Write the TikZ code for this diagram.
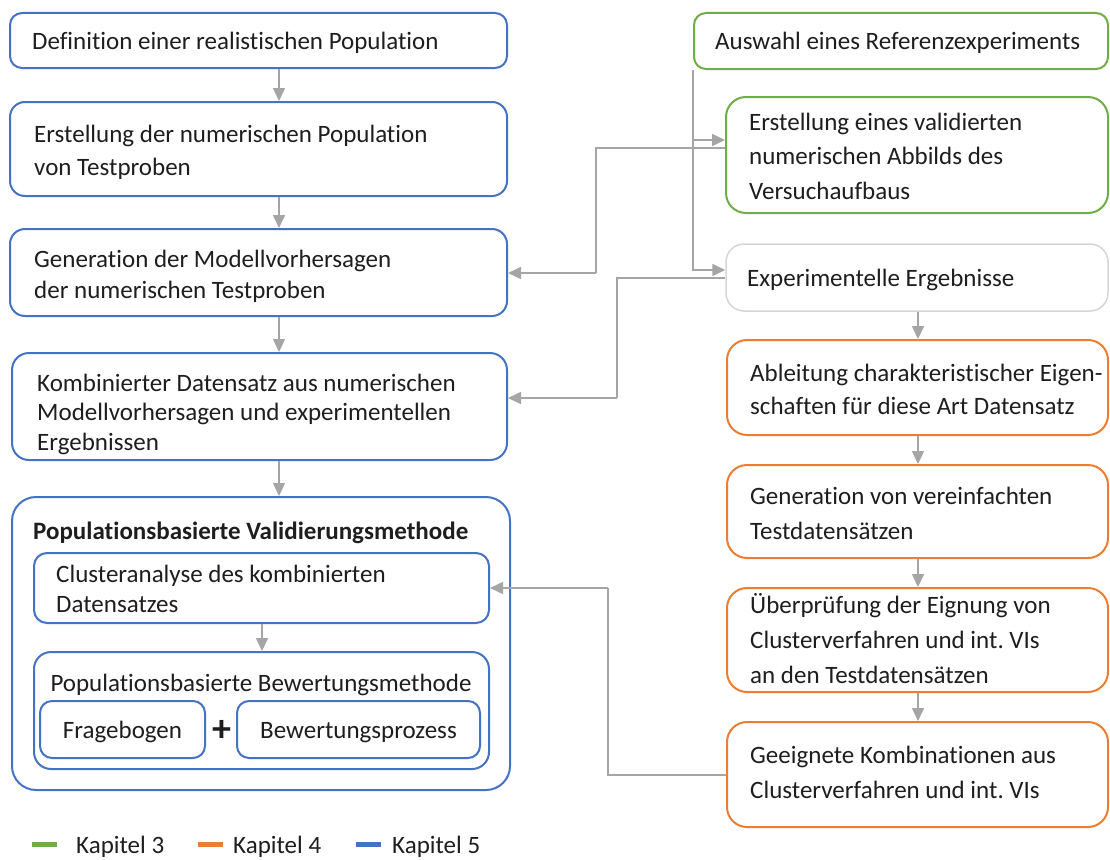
\documentclass[tikz,border=0pt]{standalone}
\usepackage{fontspec}
\setmainfont{Carlito}[Ligatures={NoCommon}]
\usetikzlibrary{arrows.meta}
\frenchspacing

\definecolor{chapblue}{HTML}{4472C4}
\definecolor{chapgreen}{HTML}{70AD47}
\definecolor{chaporange}{HTML}{ED7D31}
\definecolor{linkgray}{HTML}{A5A5A5}
\definecolor{palegray}{HTML}{D6D6D6}
\definecolor{inkc}{HTML}{1E1E1E}

% a box given by its corners (x1,y1) and (x2,y2), y pointing down
\newcommand\boxat[6]{%
  \node[#2, minimum width={(#5-#3)*1pt}, minimum height={(#6-#4)*1pt}]
    (#1) at ({(#3+#5)/2},{(#4+#6)/2}) {};}
% several text lines with a given line distance, baseline at the first line
\newcommand\linesbox[2]{\parbox[t]{520pt}{\fontsize{25}{#1}\selectfont\raggedright #2}}

\begin{document}
\begin{tikzpicture}[x=1pt,y=-1pt,
  box/.style={draw=#1, line width=2pt, rectangle, inner sep=0pt, fill=white},
  blubox/.style={box=chapblue, rounded corners=#1},
  grnbox/.style={box=chapgreen, rounded corners=#1},
  orgbox/.style={box=chaporange, rounded corners=#1},
  graybox/.style={draw=palegray, line width=1.5pt, rectangle, inner sep=0pt, rounded corners=#1},
  txt/.style={anchor=base west, inner sep=0pt, text=inkc},
  ctxt/.style={anchor=base, inner sep=0pt, text=inkc, font=\fontsize{25}{30}\selectfont},
  conn/.style={draw=linkgray, line width=1.6pt, -{Triangle[length=13pt,width=12pt]}},
  link/.style={draw=linkgray, line width=1.6pt},
  legline/.style={line width=5pt, draw=#1},
]
\useasboundingbox (0,0) rectangle (1110,859);

% helper coordinates for connector routes
\coordinate (colL) at (279,0);
\coordinate (colM) at (262,0);
\coordinate (colR) at (918,0);
\coordinate (y140) at (0,140);
\coordinate (y148) at (0,148);
\coordinate (y270) at (0,270);
\coordinate (y278) at (0,278);
\coordinate (y775) at (0,775);
\coordinate (jA) at (596,273);
\coordinate (jB) at (617,398);
\coordinate (jC) at (608,588);

% ---- left column (Kapitel 5)
\boxat{b1}{blubox=12pt}{10}{13}{507}{68}
\boxat{b2}{blubox=15pt}{10}{102}{507}{196}
\boxat{b3}{blubox=15pt}{10}{229}{507}{316}
\boxat{b4}{blubox=17pt}{12}{353}{507}{460}
\boxat{b5}{blubox=24pt}{12}{497}{510}{790}
\boxat{cl}{blubox=13pt}{34}{553}{489}{623}
\boxat{bw}{blubox=17pt}{34}{652}{489}{769}
\boxat{fr}{blubox=12pt}{40}{701}{205}{758}
\boxat{bp}{blubox=12pt}{237}{701}{480}{758}

\node[txt] (t1) at (32,50) {\linesbox{34}{Definition einer realistischen Population}};
\node[txt] (t2) at (34,142) {\linesbox{33}{Erstellung der numerischen Population\\von Testproben}};
\node[txt] (t3) at (34,267) {\linesbox{31}{Generation der Modellvorhersagen\\der numerischen Testproben}};
\node[txt] (t4) at (37,391) {\linesbox{29.5}{Kombinierter Datensatz aus numerischen\\Modellvorhersagen und experimentellen\\Ergebnissen}};
\node[txt] (t5) at (33,539) {\linesbox{30}{\bfseries Populationsbasierte Validierungsmethode}};
\node[txt] (tcl) at (56,582) {\linesbox{30}{Clusteranalyse des kombinierten\\Datensatzes}};
\node[ctxt] (tbw) at (261,691) {Populationsbasierte Bewertungsmethode};
\node[ctxt] (tfr) at (122.5,738) {Fragebogen};
\node[ctxt] (tbp) at (358.5,738) {Bewertungsprozess};
\node[inner sep=0pt, text=inkc, font=\fontsize{38}{38}\selectfont\bfseries] (plus) at (222,731) {+};

% ---- right column (Kapitel 3 and 4)
\boxat{r1}{grnbox=12pt}{694}{13}{1108}{69}
\boxat{r2}{grnbox=20pt}{726}{97}{1108}{213}
\boxat{r3}{graybox=18pt}{726}{244}{1108}{311}
\boxat{r4}{orgbox=20pt}{727}{340}{1108}{435}
\boxat{r5}{orgbox=20pt}{727}{465}{1108}{558}
\boxat{r6}{orgbox=20pt}{727}{588}{1108}{692}
\boxat{r7}{orgbox=20pt}{727}{722}{1108}{827}

\node[txt] (s1) at (715,50) {\linesbox{34}{Auswahl eines Referenzexperiments}};
\node[txt] (s2) at (749,130) {\linesbox{34.5}{Erstellung eines validierten\\numerischen Abbilds des\\Versuchaufbaus}};
\node[txt] (s3) at (747,286) {\linesbox{34}{Experimentelle Ergebnisse}};
\node[txt] (s4) at (750,381) {\linesbox{33}{Ableitung charakteristischer Eigen-\\schaften für diese Art Datensatz}};
\node[txt] (s5) at (750,504) {\linesbox{35}{Generation von vereinfachten\\Testdatensätzen}};
\node[txt] (s6) at (750,613) {\linesbox{35}{Überprüfung der Eignung von\\Clusterverfahren und int. VIs\\an den Testdatensätzen}};
\node[txt] (s7) at (750,763) {\linesbox{35}{Geeignete Kombinationen aus\\Clusterverfahren und int. VIs}};

% ---- connectors
\draw[conn] (b1.south -| colL) -- (b2.north -| colL);
\draw[conn] (b2.south -| colL) -- (b3.north -| colL);
\draw[conn] (b3.south -| colL) -- (b4.north -| colL);
\draw[conn] (b4.south -| colL) -- (b5.north -| colL);
\draw[conn] (cl.south -| colM) -- (bw.north -| colM);

\draw[conn] (r3.south -| colR) -- (r4.north -| colR);
\draw[conn] (r4.south -| colR) -- (r5.north -| colR);
\draw[conn] (r5.south -| colR) -- (r6.north -| colR);
\draw[conn] (r6.south -| colR) -- (r7.north -| colR);

\draw[conn] (r1.south west) |- (r3.west |- y270);
\draw[conn] (r1.south west |- y140) -- (r2.west |- y140);

\draw[link] (r2.west |- y148) -| (jA);
\draw[conn] (jA) -- (b3.east |- jA);
\draw[link] (r3.west |- y278) -| (jB);
\draw[conn] (jB) -- (b4.east |- jB);
\draw[link] (r7.west |- y775) -| (jC);
\draw[conn] (jC) -- (cl.east |- jC);

% ---- legend
\coordinate (g1) at (32,844);  \coordinate (g2) at (57,844);
\coordinate (o1) at (198,844); \coordinate (o2) at (223,844);
\coordinate (u1) at (356,844); \coordinate (u2) at (381,844);
\draw[legline=chapgreen] (g1) -- (g2);
\draw[legline=chaporange] (o1) -- (o2);
\draw[legline=chapblue] (u1) -- (u2);
\node[txt] (k3) at (76,853) {\linesbox{30}{Kapitel 3}};
\node[txt] (k4) at (233,853) {\linesbox{30}{Kapitel 4}};
\node[txt] (k5) at (392,853) {\linesbox{30}{Kapitel 5}};
\end{tikzpicture}
\end{document}
